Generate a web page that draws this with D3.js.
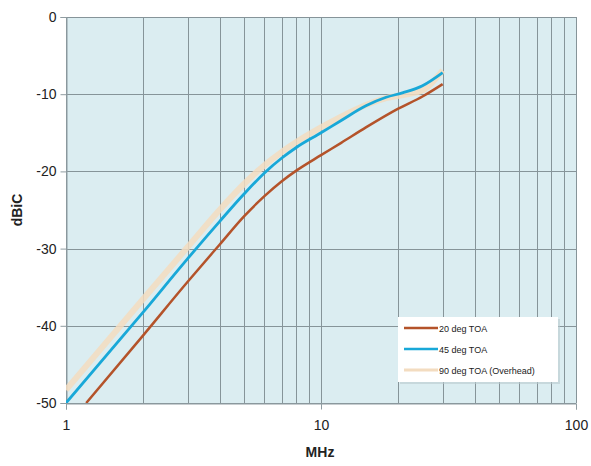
<!DOCTYPE html>
<html><head><meta charset="utf-8">
<script src="https://cdn.jsdelivr.net/npm/d3@7"></script>
<style>body{margin:0;background:#fff}svg{display:block}</style>
</head><body>
<svg id="c" width="591" height="466"></svg>
<script>
const seriesNames = ["20 deg TOA", "45 deg TOA", "90 deg TOA (Overhead)"];
const seriesColors = ["#b4532a", "#18a8d8", "#f3dcc0"];
const freq20 = [1.2, 2, 3, 4, 5, 6, 7, 8, 10, 12, 15, 20, 25, 30];
const val20  = [-50, -41.3, -34.3, -29.5, -25.8, -23.2, -21.3, -19.9, -17.9, -16.3, -14.3, -11.9, -10.3, -8.7];
const freq45 = [1, 2, 3, 4, 5, 6, 7, 8, 10, 12, 15, 18, 21, 25, 30];
const val45  = [-50, -38.3, -31.3, -26.5, -22.9, -20.2, -18.3, -16.9, -15.0, -13.4, -11.5, -10.4, -9.8, -8.9, -7.2];
const freq90 = [1, 2, 3, 4, 5, 6, 7, 8, 10, 12, 15, 18, 21, 25, 30];
const val90  = [-48.3, -36.6, -29.8, -25.0, -21.6, -19.2, -17.5, -16.2, -14.3, -12.9, -11.4, -10.5, -10.1, -9.5, -6.9];
const xTicks = [1, 10, 100];
const yTicks = [0, -10, -20, -30, -40, -50];

const svg = d3.select("#c");
const L = 66, R = 576, T = 17, B = 403;
const x = d3.scaleLog().domain([1, 100]).range([L, R]);
const y = d3.scaleLinear().domain([-50, 0]).range([B, T]);
const font = "Liberation Sans, Arial, sans-serif";

svg.append("rect").attr("x", L).attr("y", T).attr("width", R - L).attr("height", B - T).attr("fill", "#dbedf1");

const vg = [];
for (let d = 1; d < 100; d *= 10) for (let k = 1; k <= 10; k++) vg.push(d * k);
svg.append("g").selectAll("line").data(vg).join("line")
  .attr("x1", d => Math.round(x(d)) + 0.5).attr("x2", d => Math.round(x(d)) + 0.5)
  .attr("y1", T).attr("y2", B).attr("stroke", "#869499").attr("stroke-width", 1);
svg.append("g").selectAll("line").data(yTicks).join("line")
  .attr("x1", L).attr("x2", R)
  .attr("y1", d => Math.round(y(d)) + 0.5).attr("y2", d => Math.round(y(d)) + 0.5)
  .attr("stroke", "#869499").attr("stroke-width", 1);

const fmt = d => String(d);
const yAxis = d3.axisLeft(y).tickValues(yTicks).tickSize(6).tickPadding(4).tickFormat(fmt);
const gy = svg.append("g").attr("transform", `translate(${L + 0.5},0)`).call(yAxis);
gy.select(".domain").attr("stroke", "#8f9ca1");
gy.selectAll(".tick line").attr("stroke", "#8f9ca1");
gy.selectAll("text").attr("font-family", font).attr("font-size", 14).attr("fill", "#222");

const xAxis = d3.axisBottom(x).tickValues(xTicks).tickSize(6).tickPadding(11).tickFormat(fmt);
const gx = svg.append("g").attr("transform", `translate(0,${B + 0.5})`).call(xAxis);
gx.select(".domain").attr("stroke", "#8f9ca1");
gx.selectAll(".tick line").attr("stroke", "#8f9ca1");
gx.selectAll("text").attr("font-family", font).attr("font-size", 14).attr("fill", "#222");

svg.append("text").attr("x", 320).attr("y", 457).attr("text-anchor", "middle")
  .attr("font-family", font).attr("font-size", 14).attr("font-weight", "bold").attr("fill", "#222").text("MHz");
svg.append("text").attr("transform", "translate(22,210) rotate(-90)").attr("text-anchor", "middle")
  .attr("font-family", font).attr("font-size", 14).attr("font-weight", "bold").attr("fill", "#222").text("dBiC");

const line = d3.line().x(d => x(d[0])).y(d => y(d[1])).curve(d3.curveMonotoneX);
const data = [
  { f: freq20, v: val20, w: 2.5, o: 1 },
  { f: freq45, v: val45, w: 2.8, o: 1 },
  { f: freq90, v: val90, w: 6, o: 0.85 }
];
svg.append("clipPath").attr("id", "pc").append("rect").attr("x", L).attr("y", T).attr("width", R - L).attr("height", B - T);
const order = [2, 0, 1];
const gl = svg.append("g").attr("clip-path", "url(#pc)");
order.forEach(i => {
  const s = data[i];
  gl.append("path").datum(s.f.map((f, j) => [f, s.v[j]]))
    .attr("d", line).attr("fill", "none").attr("stroke", seriesColors[i])
    .attr("stroke-width", s.w).attr("stroke-opacity", s.o).attr("stroke-linejoin", "round");
});

const lg = svg.append("g").attr("transform", "translate(398,317)");
lg.append("rect").attr("x", 2).attr("y", 2).attr("width", 160).attr("height", 65).attr("fill", "#b9c9ce").attr("opacity", 0.6);
lg.append("rect").attr("width", 160).attr("height", 65).attr("fill", "#fff");
seriesNames.forEach((n, i) => {
  const yy = 11 + i * 21;
  lg.append("line").attr("x1", 6).attr("x2", 40).attr("y1", yy).attr("y2", yy)
    .attr("stroke", seriesColors[i]).attr("stroke-width", i === 2 ? 3 : 2.5);
  lg.append("text").attr("x", 41).attr("y", yy + 3.5).attr("font-family", font)
    .attr("font-size", 9).attr("fill", "#222").text(n);
});
</script>
</body></html>
